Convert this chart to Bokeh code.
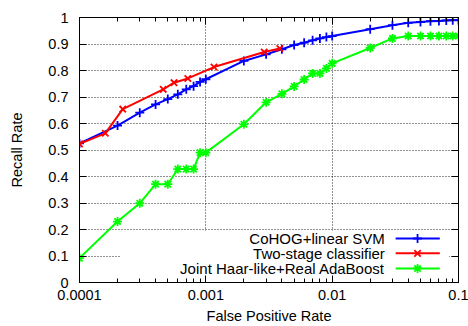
from bokeh.plotting import figure
from bokeh.models import (Range1d, FixedTicker, CustomJSTickFormatter, LinearAxis,
                          LogAxis, BoxAnnotation, CustomLabelingPolicy)
from bokeh.core.properties import value
from bokeh.embed import file_html
from bokeh.resources import INLINE

# ---------------- data ----------------
fpr_cohog = [0.0001, 0.0002, 0.0003, 0.0004, 0.0005, 0.0006, 0.0007, 0.0008, 0.0009,
             0.001, 0.002, 0.003, 0.004, 0.005, 0.006, 0.007, 0.008, 0.009,
             0.01, 0.02, 0.03, 0.04, 0.05, 0.06, 0.07, 0.08, 0.09, 0.1]
recall_cohog = [0.525, 0.592, 0.641, 0.672, 0.692, 0.710, 0.729, 0.741, 0.757,
                0.767, 0.836, 0.861, 0.880, 0.896, 0.905, 0.914, 0.921, 0.926,
                0.930, 0.956, 0.971, 0.980, 0.983, 0.986, 0.987, 0.989, 0.990, 0.990]

fpr_two = [0.0001, 0.00016, 0.00022, 0.00046, 0.00056, 0.00072, 0.00116, 0.00290, 0.00385]
recall_two = [0.523, 0.563, 0.654, 0.729, 0.754, 0.770, 0.813, 0.870, 0.883]

fpr_haar = [0.0001, 0.0002, 0.0003, 0.0004, 0.0005, 0.0006, 0.0007, 0.0008, 0.0009,
            0.001, 0.002, 0.003, 0.004, 0.005, 0.006, 0.007, 0.008, 0.009,
            0.01, 0.02, 0.03, 0.04, 0.05, 0.06, 0.07, 0.08, 0.09, 0.1]
recall_haar = [0.092, 0.230, 0.299, 0.371, 0.371, 0.428, 0.428, 0.428, 0.490,
               0.490, 0.597, 0.680, 0.712, 0.740, 0.766, 0.789, 0.789, 0.808,
               0.827, 0.885, 0.921, 0.930, 0.930, 0.930, 0.930, 0.930, 0.930, 0.930]

series_names = ["CoHOG+linear SVM", "Two-stage classifier", "Joint Haar-like+Real AdaBoost"]

x_ticks = [0.0001, 0.001, 0.01, 0.1]
x_tick_labels = ["0.0001", "0.001", "0.01", "0.1"]
y_ticks = [0, 0.1, 0.2, 0.3, 0.4, 0.5, 0.6, 0.7, 0.8, 0.9, 1.0]
y_tick_labels = ["0", "0.1", "0.2", "0.3", "0.4", "0.5", "0.6", "0.7", "0.8", "0.9", "1"]

x_title = "False Positive Rate"
y_title = "Recall Rate"

# ---------------- styles ----------------
FONT = "Liberation Sans"
FS = "14.5px"
KEY_FS = "15px"
colors = ["#0000ff", "#ff0000", "#00ff00"]
markers = ["cross", "x", "asterisk"]

p = figure(width=468, height=326, x_axis_type="log",
           x_range=Range1d(0.0001, 0.1), y_range=Range1d(0, 1),
           output_backend="svg", toolbar_location=None,
           min_border_left=79, min_border_right=10, min_border_top=17,
           min_border_bottom=43)
p.background_fill_color = "white"
p.border_fill_color = "white"
p.outline_line_color = "black"
p.outline_line_width = 1

minor = [m * t for t in x_ticks[:-1] for m in range(2, 10)]
xticker = FixedTicker(ticks=x_ticks, minor_ticks=minor)
yticker = FixedTicker(ticks=y_ticks, minor_ticks=[])

xfmt = CustomJSTickFormatter(args=dict(tvals=x_ticks, tlabels=x_tick_labels), code="""
const i = tvals.findIndex(t => Math.abs(Math.log10(t) - Math.log10(tick)) < 1e-6);
return i >= 0 ? tlabels[i] : '';
""")
yfmt = CustomJSTickFormatter(args=dict(tvals=y_ticks, tlabels=y_tick_labels), code="""
const i = tvals.findIndex(t => Math.abs(t - tick) < 1e-6);
return i >= 0 ? tlabels[i] : '';
""")


def style_axis(ax, show_labels):
    ax.axis_line_color = "black"
    ax.axis_line_width = 1
    ax.major_tick_in = 7
    ax.major_tick_out = 0
    ax.minor_tick_in = 4
    ax.minor_tick_out = 0
    ax.major_tick_line_color = "black"
    ax.minor_tick_line_color = "black"
    ax.major_label_text_font = FONT
    ax.major_label_text_color = "black"
    ax.major_label_text_font_size = FS
    if not show_labels:
        ax.major_label_policy = CustomLabelingPolicy(code="return new Set()")
        ax.major_label_text_font_size = "1px"
        ax.major_label_standoff = 0


xa = p.xaxis[0]
xa.ticker = xticker
xa.formatter = xfmt
style_axis(xa, True)
xa.major_label_standoff = 7
xa.axis_label = x_title
xa.axis_label_text_font = FONT
xa.axis_label_text_font_size = FS
xa.axis_label_text_font_style = "normal"
xa.axis_label_text_color = "black"
xa.axis_label_standoff = 5

ya = p.yaxis[0]
ya.ticker = yticker
ya.formatter = yfmt
style_axis(ya, True)
ya.major_label_standoff = 11
ya.axis_label = y_title
ya.axis_label_text_font = FONT
ya.axis_label_text_font_size = FS
ya.axis_label_text_font_style = "normal"
ya.axis_label_text_color = "black"
ya.axis_label_standoff = 20

top = LogAxis(ticker=xticker, formatter=xfmt)
style_axis(top, False)
p.add_layout(top, "above")
right = LinearAxis(ticker=yticker, formatter=yfmt)
style_axis(right, False)
p.add_layout(right, "right")

for g in (p.xgrid[0], p.ygrid[0]):
    g.grid_line_color = "black"
    g.grid_line_alpha = 0.85
    g.grid_line_dash = "1 2"
    g.grid_line_width = 1
p.xgrid[0].ticker = xticker
p.ygrid[0].ticker = yticker

# key background (hides grid behind the key, like gnuplot)
p.add_layout(BoxAnnotation(left=0.00021, right=0.084, bottom=0.0, top=0.195,
                           fill_color="white", fill_alpha=1.0, line_color=None,
                           level="glyph"))

# ---------------- series ----------------
data = [(fpr_cohog, recall_cohog), (fpr_two, recall_two), (fpr_haar, recall_haar)]
for (xs, ys), c, m in zip(data, colors, markers):
    p.line(xs, ys, line_color=c, line_width=2)
    p.scatter(xs, ys, marker=m, size=9, line_color=c, line_width=1.8, fill_color=None)

# ---------------- key ----------------
key_text_x = 0.0261
key_line_x = (0.0318, 0.0711)
key_mark_x = 0.0474
key_rows = [0.166, 0.110, 0.053]
p.text(x=[key_text_x] * 3, y=key_rows, text=series_names,
       text_font=value(FONT), text_font_size=value(KEY_FS), text_color="black",
       text_align="right", text_baseline="middle", level="overlay")
for yrow, c, m in zip(key_rows, colors, markers):
    p.line(list(key_line_x), [yrow, yrow], line_color=c, line_width=2, level="overlay")
    p.scatter([key_mark_x], [yrow], marker=m, size=9, line_color=c, line_width=1.8,
              fill_color=None, level="overlay")

open("out.html", "w").write(file_html(p, INLINE))
